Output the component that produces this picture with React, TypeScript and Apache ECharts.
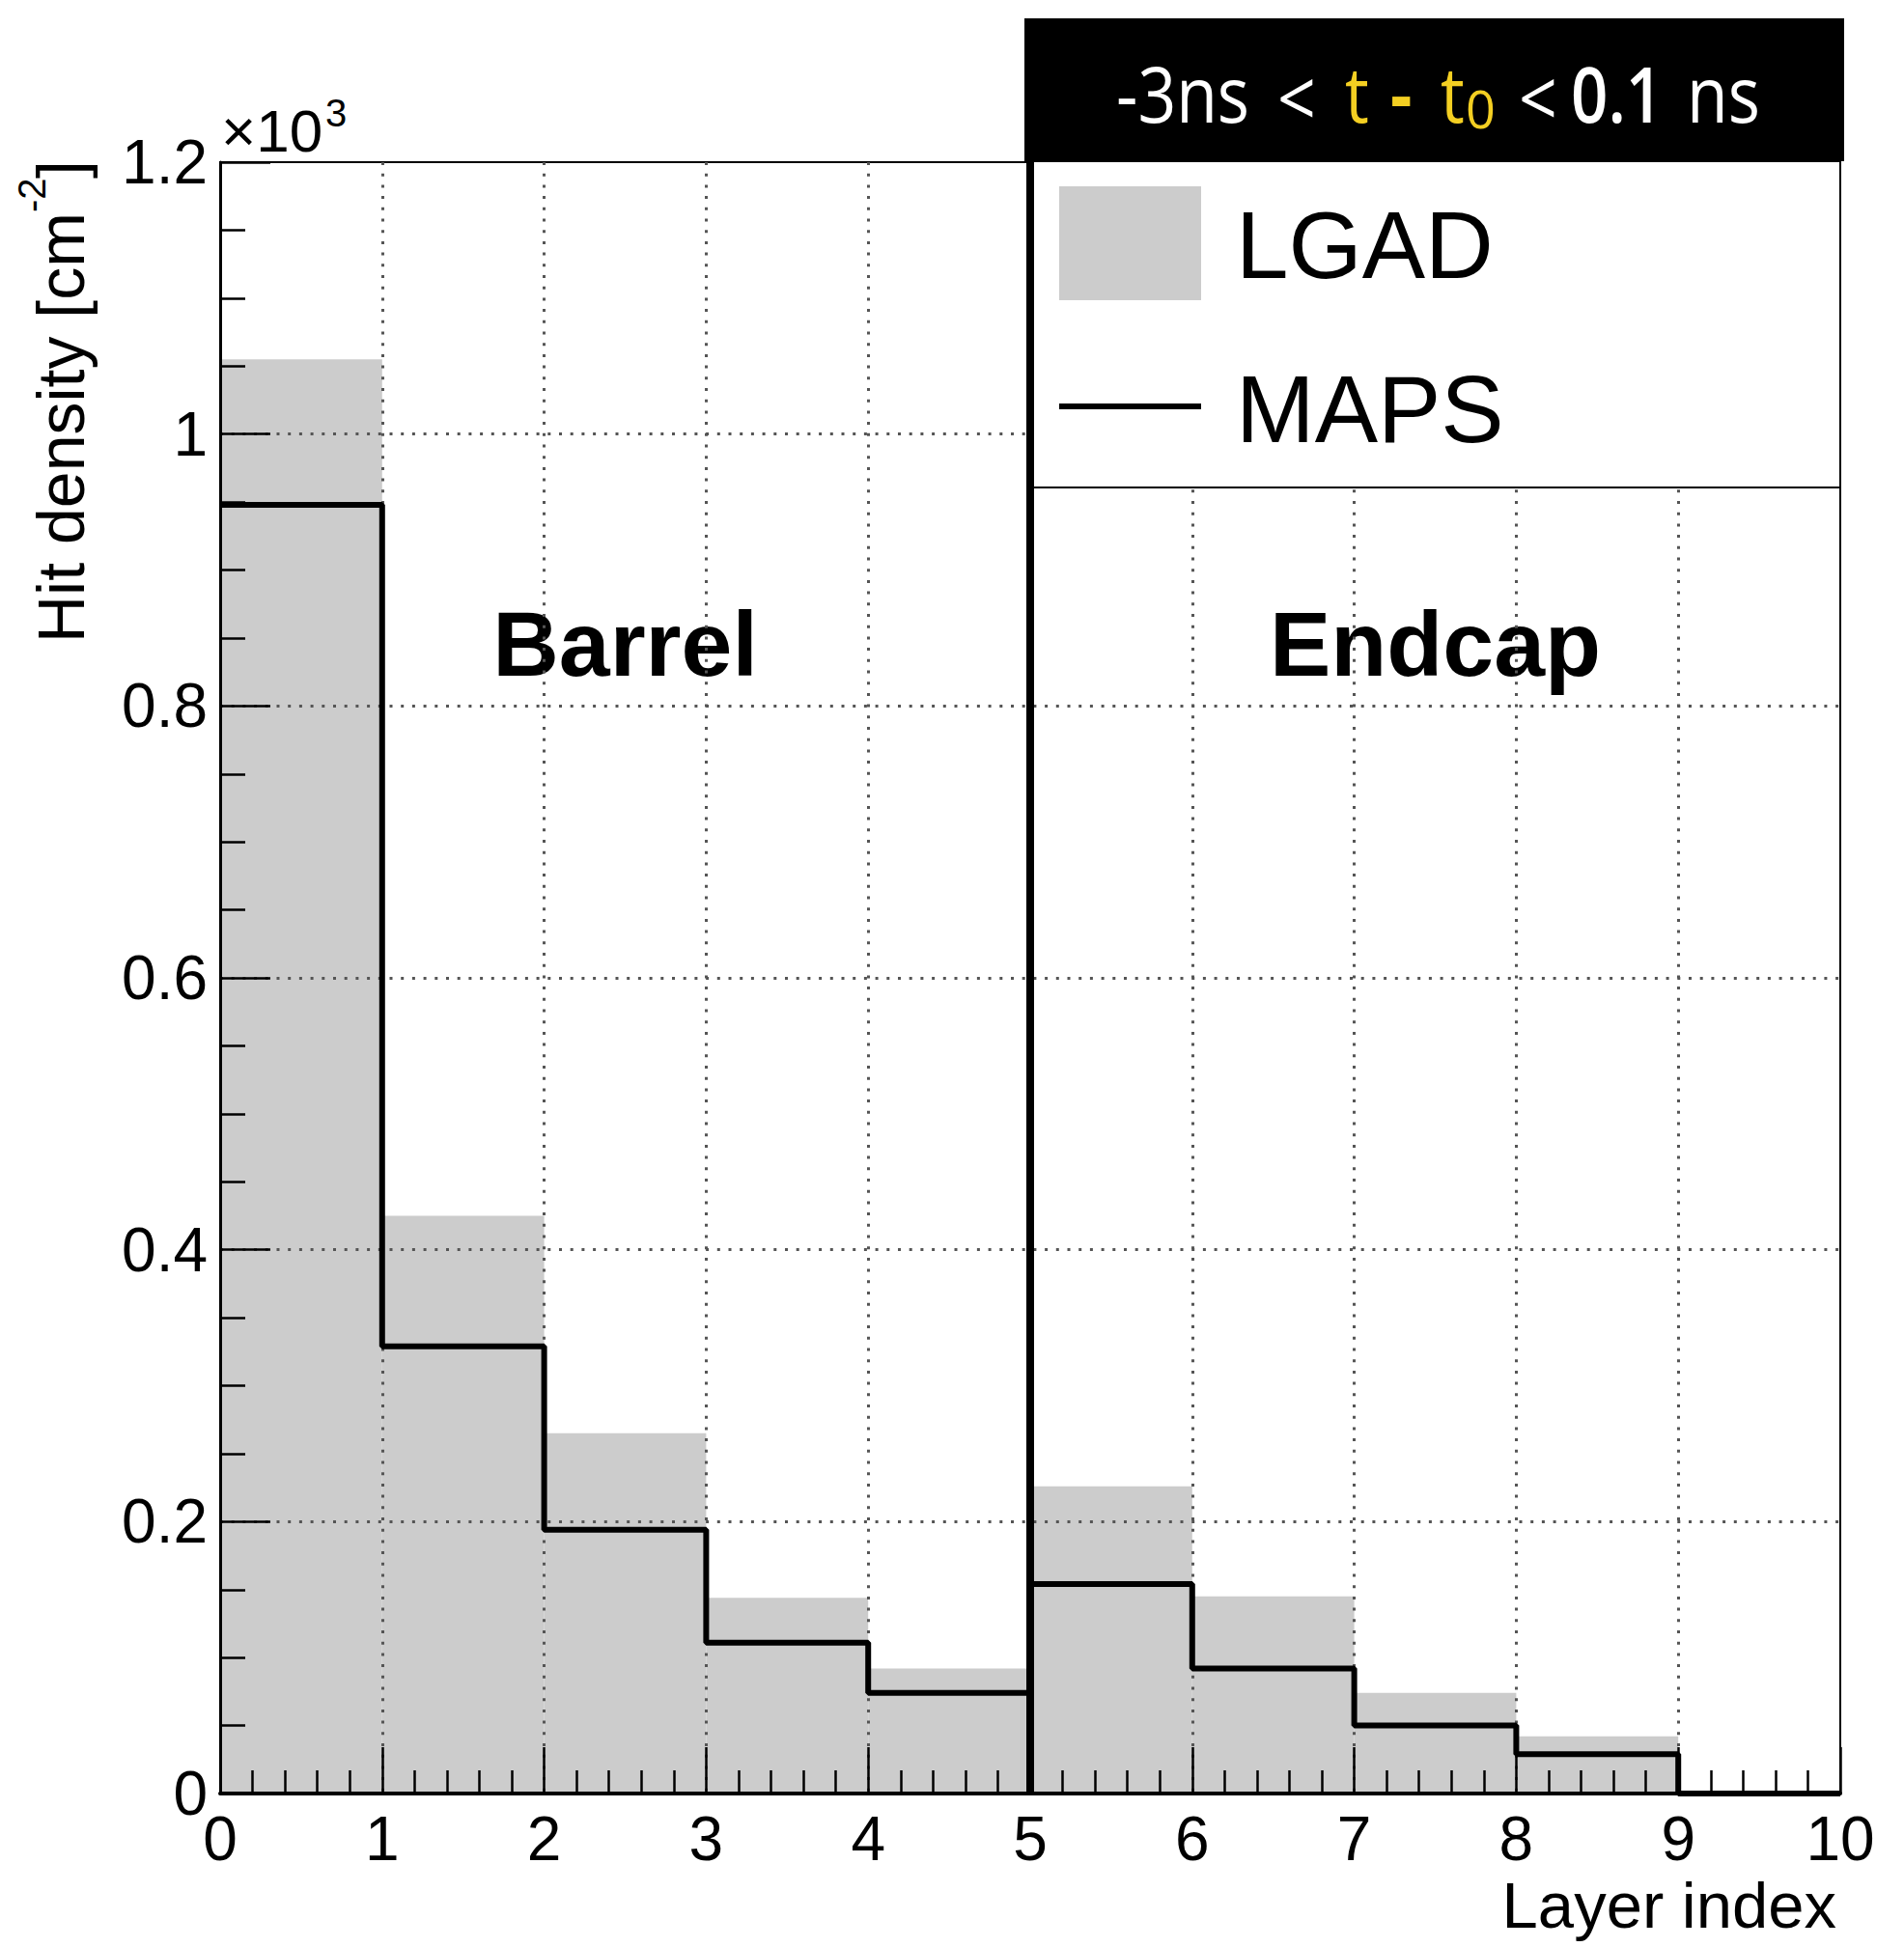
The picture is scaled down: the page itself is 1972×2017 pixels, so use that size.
import React, { useEffect, useRef } from 'react';
import * as echarts from 'echarts';

// ---- data ----
const binEdges = [0, 1, 2, 3, 4, 5, 6, 7, 8, 9, 10];
const lgadValues = [1055, 425, 265, 144, 92, 226, 145, 74, 42, 0];
const mapsValues = [948, 329, 194, 111, 74, 154, 92, 50, 29, 0];
const regionLabels = ['Barrel', 'Endcap'];
const regionCenters = [2.5, 7.5];
const separatorAt = 5;
const legendNames = ['LGAD', 'MAPS'];

const FONT = '"Liberation Sans", Arial, Helvetica, sans-serif';
const HFONT = '"Open Sans", "Noto Sans", sans-serif';
const WHITE = '#ffffff';
const YELLOW = '#f4cf22';

// header pieces (text, start x, colour, size, weight, centre y, scaleX)
const headerPieces = [
  { t: '-3ns', x: 1156, c: WHITE, s: 80, w: '500', y: 96, k: 0.87 },
  { t: '<', x: 1323, c: WHITE, s: 80, w: '500', y: 100, k: 0.87 },
  { t: 't', x: 1393, c: YELLOW, s: 80, w: '500', y: 96, k: 0.87 },
  { t: '-', x: 1440, c: YELLOW, s: 80, w: 'bold', y: 96, k: 0.87 },
  { t: 't', x: 1492, c: YELLOW, s: 80, w: '500', y: 96, k: 0.87 },
  { t: '0', x: 1518, c: YELLOW, s: 54, w: 'normal', y: 112, k: 1 },
  { t: '<', x: 1573, c: WHITE, s: 80, w: '500', y: 100, k: 0.87 },
  { t: '0.1', x: 1627, c: WHITE, s: 80, w: '600', y: 96, k: 0.84 },
  { t: 'ns', x: 1747, c: WHITE, s: 80, w: '500', y: 96, k: 0.87 },
];

const GRID = { left: 228, top: 168, width: 1678, height: 1690 };

export default function App() {
  const ref = useRef<HTMLDivElement>(null);

  useEffect(() => {
    if (!ref.current) return;
    const chart = echarts.init(ref.current, null, { renderer: 'svg' });

    const lgadData = lgadValues.map((v, i) => [binEdges[i], binEdges[i + 1], v]);
    const mapsData = mapsValues.map((v, i) => [binEdges[i], v]);
    mapsData.push([binEdges[binEdges.length - 1], mapsValues[mapsValues.length - 1]]);

    const gridLine = { color: '#555555', width: 3, type: [3, 8.7] as any };

    const graphics: any[] = [];
    // header
    graphics.push({
      type: 'rect', z: 20,
      shape: { x: 1061, y: 19, width: 849, height: 148 },
      style: { fill: '#000' },
    });
    headerPieces.forEach((p) => {
      graphics.push({
        type: 'text', z: 21, x: p.x, y: p.y, scaleX: p.k,
        style: {
          text: p.t, fill: p.c, font: `${p.w} ${p.s}px ${HFONT}`,
          align: 'left', verticalAlign: 'middle',
        },
      });
    });
    // legend box
    graphics.push({
      type: 'rect', z: 20,
      shape: { x: 1067, y: 167, width: 839, height: 338 },
      style: { fill: '#fff', stroke: '#000', lineWidth: 2 },
    });
    graphics.push({
      type: 'line', z: 22,
      shape: { x1: 1067, y1: 19, x2: 1067, y2: 505 },
      style: { stroke: '#000', lineWidth: 8 },
    });
    graphics.push({
      type: 'rect', z: 21,
      shape: { x: 1097, y: 193, width: 147, height: 118 },
      style: { fill: '#cccccc' },
    });
    graphics.push({
      type: 'line', z: 21,
      shape: { x1: 1097, y1: 421, x2: 1244, y2: 421 },
      style: { stroke: '#000', lineWidth: 6 },
    });
    graphics.push({
      type: 'text', z: 21, x: 1280, y: 254,
      style: { text: legendNames[0], fill: '#000', font: `98px ${FONT}`, align: 'left', verticalAlign: 'middle' },
    });
    graphics.push({
      type: 'text', z: 21, x: 1280, y: 424,
      style: { text: legendNames[1], fill: '#000', font: `98px ${FONT}`, align: 'left', verticalAlign: 'middle' },
    });
    // region labels
    regionLabels.forEach((lab, i) => {
      const px = GRID.left + (regionCenters[i] / 10) * GRID.width;
      graphics.push({
        type: 'text', z: 2, x: px, y: 667,
        style: { text: lab, fill: '#000', font: `bold 95px ${FONT}`, align: 'center', verticalAlign: 'middle' },
      });
    });
    // x10^3
    graphics.push({
      type: 'text', z: 5, x: 229, y: 135,
      style: { text: '×10', fill: '#000', font: `62px ${FONT}`, align: 'left', verticalAlign: 'middle' },
    });
    graphics.push({
      type: 'text', z: 5, x: 337, y: 117,
      style: { text: '3', fill: '#000', font: `40px ${FONT}`, align: 'left', verticalAlign: 'middle' },
    });
    // y axis title (rotated)
    graphics.push({
      type: 'group', x: 87, y: 666, rotation: Math.PI / 2, z: 5,
      children: [
        {
          type: 'text', x: 0, y: -24,
          style: { text: 'Hit density [cm', fill: '#000', font: `68px ${FONT}`, align: 'left', verticalAlign: 'middle' },
        },
        {
          type: 'text', x: 446, y: -54,
          style: { text: '-2', fill: '#000', font: `40px ${FONT}`, align: 'left', verticalAlign: 'middle' },
        },
        {
          type: 'text', x: 481, y: -24,
          style: { text: ']', fill: '#000', font: `68px ${FONT}`, align: 'left', verticalAlign: 'middle' },
        },
      ],
    });
    // x axis title
    graphics.push({
      type: 'text', z: 5, x: 1902, y: 1973,
      style: { text: 'Layer index', fill: '#000', font: `67px ${FONT}`, align: 'right', verticalAlign: 'middle' },
    });

    chart.setOption({
      animation: false,
      grid: {
        ...GRID, show: true, borderColor: '#000', borderWidth: 2,
        backgroundColor: 'transparent', containLabel: false,
      },
      xAxis: {
        type: 'value', min: 0, max: 10, interval: 1, z: 3,
        axisLine: { show: true, onZero: false, lineStyle: { color: '#000', width: 4 } },
        axisTick: { show: true, inside: true, length: 48, lineStyle: { color: '#000', width: 2.5 } },
        minorTick: { show: true, splitNumber: 5, length: 24, lineStyle: { color: '#000', width: 2.5 } },
        axisLabel: { fontFamily: FONT, fontSize: 64, color: '#000', margin: 15 },
        splitLine: { show: true, showMinLine: false, showMaxLine: false, lineStyle: gridLine },
      },
      yAxis: {
        type: 'value', min: 0, max: 1200, interval: 200, z: 3,
        axisLine: { show: true, onZero: false, lineStyle: { color: '#000', width: 3 } },
        axisTick: { show: true, inside: true, length: 52, lineStyle: { color: '#000', width: 2.5 } },
        minorTick: { show: true, splitNumber: 4, length: 26, lineStyle: { color: '#000', width: 2.5 } },
        axisLabel: {
          fontFamily: FONT, fontSize: 64, color: '#000', margin: 13,
          formatter: (v: number) => String(Math.round(v) / 1000),
        },
        splitLine: { show: true, showMinLine: false, showMaxLine: false, lineStyle: gridLine },
      },
      series: [
        {
          name: legendNames[0],
          type: 'custom',
          z: 1,
          data: lgadData,
          encode: { x: [0, 1], y: 2 },
          renderItem: (params: any, api: any) => {
            const p0 = api.coord([api.value(0), api.value(2)]);
            const p1 = api.coord([api.value(1), 0]);
            return {
              type: 'rect',
              shape: { x: p0[0], y: p0[1], width: p1[0] - p0[0], height: p1[1] - p0[1] },
              style: { fill: '#cccccc' },
            };
          },
        },
        {
          name: legendNames[1],
          type: 'line',
          step: 'end',
          z: 5,
          symbol: 'none',
          data: mapsData,
          lineStyle: { color: '#000', width: 6 },
          markLine: {
            silent: true,
            symbol: 'none',
            label: { show: false },
            lineStyle: { color: '#000', width: 8, type: 'solid' },
            data: [{ xAxis: separatorAt }],
          },
        },
      ],
      graphic: graphics,
    });

    return () => chart.dispose();
  }, []);

  return (
    <div
      ref={ref}
      style={{ position: 'absolute', left: 0, top: 0, width: 1972, height: 2017, background: '#fff' }}
    />
  );
}
